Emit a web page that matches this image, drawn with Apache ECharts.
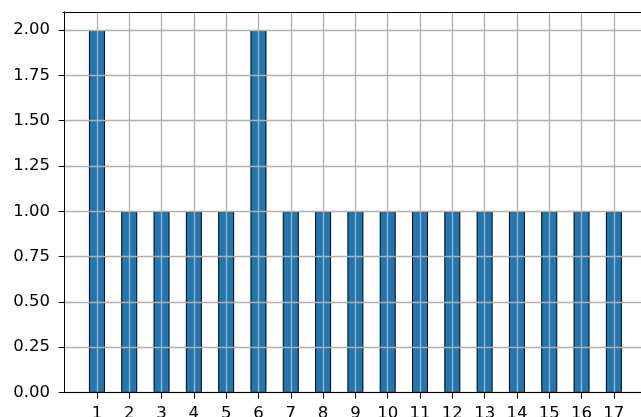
<!DOCTYPE html>
<html>
<head>
<meta charset="utf-8">
<script src="https://cdn.jsdelivr.net/npm/echarts@6/dist/echarts.min.js"></script>
<style>
  html, body { margin: 0; padding: 0; background: #fff; }
  #c1 { width: 641px; height: 417px; }
</style>
</head>
<body>
<div id="c1"></div>
<script>
var categories = [1, 2, 3, 4, 5, 6, 7, 8, 9, 10, 11, 12, 13, 14, 15, 16, 17];
var counts = [2, 1, 1, 1, 1, 2, 1, 1, 1, 1, 1, 1, 1, 1, 1, 1, 1];
var yTicks = [0, 0.25, 0.5, 0.75, 1, 1.25, 1.5, 1.75, 2];

var chart = echarts.init(document.getElementById("c1"));

var barData = [];
for (var i = 0; i < categories.length; i++) {
  barData.push([categories[i], counts[i]]);
}

var font = "DejaVu Sans";
var gridColor = "#b0b0b0";
var option = {
  animation: false,
  grid: {
    left: 63,
    top: 12,
    right: 0,
    bottom: 24.5,
    show: false,
    containLabel: false,
    outerBoundsMode: "none",
  },
  xAxis: [
    {
      type: "value",
      min: -0.05,
      max: 17.84,
      z: 5,
      position: "bottom",
      axisLine: { show: true, lineStyle: { color: "#000", width: 1 } },
      axisTick: {
        show: true,
        length: 6,
        customValues: categories,
        lineStyle: { color: "#000" },
      },
      axisLabel: {
        customValues: categories,
        color: "#000",
        fontFamily: font,
        fontSize: 16.5,
        margin: 13,
      },
      splitLine: { show: true, lineStyle: { color: gridColor, width: 1.3 } },
    },
    {
      // top spine only
      type: "value",
      min: -0.05,
      max: 17.84,
      position: "top",
      z: 5,
      axisLine: { show: true, lineStyle: { color: "#000", width: 1 } },
      axisTick: { show: false },
      axisLabel: { show: false },
      splitLine: { show: false },
    },
  ],
  yAxis: {
    type: "value",
    min: 0,
    max: 2.1,
    z: 5,
    axisLine: { show: true, lineStyle: { color: "#000", width: 1 } },
    axisTick: {
      show: true,
      length: 6,
      customValues: yTicks,
      lineStyle: { color: "#000" },
    },
    axisLabel: {
      customValues: yTicks,
      color: "#000",
      fontFamily: font,
      fontSize: 16.5,
      margin: 13,
      formatter: function (v) {
        return v.toFixed(2);
      },
    },
    splitLine: { show: true, lineStyle: { color: gridColor, width: 1.3 } },
  },
  series: [
    {
      type: "bar",
      barWidth: 16,
      data: barData,
      itemStyle: {
        color: "#1f77b4",
        borderColor: "#000",
        borderWidth: 1,
      },
    },
  ],
};
chart.setOption(option);
</script>
</body>
</html>
